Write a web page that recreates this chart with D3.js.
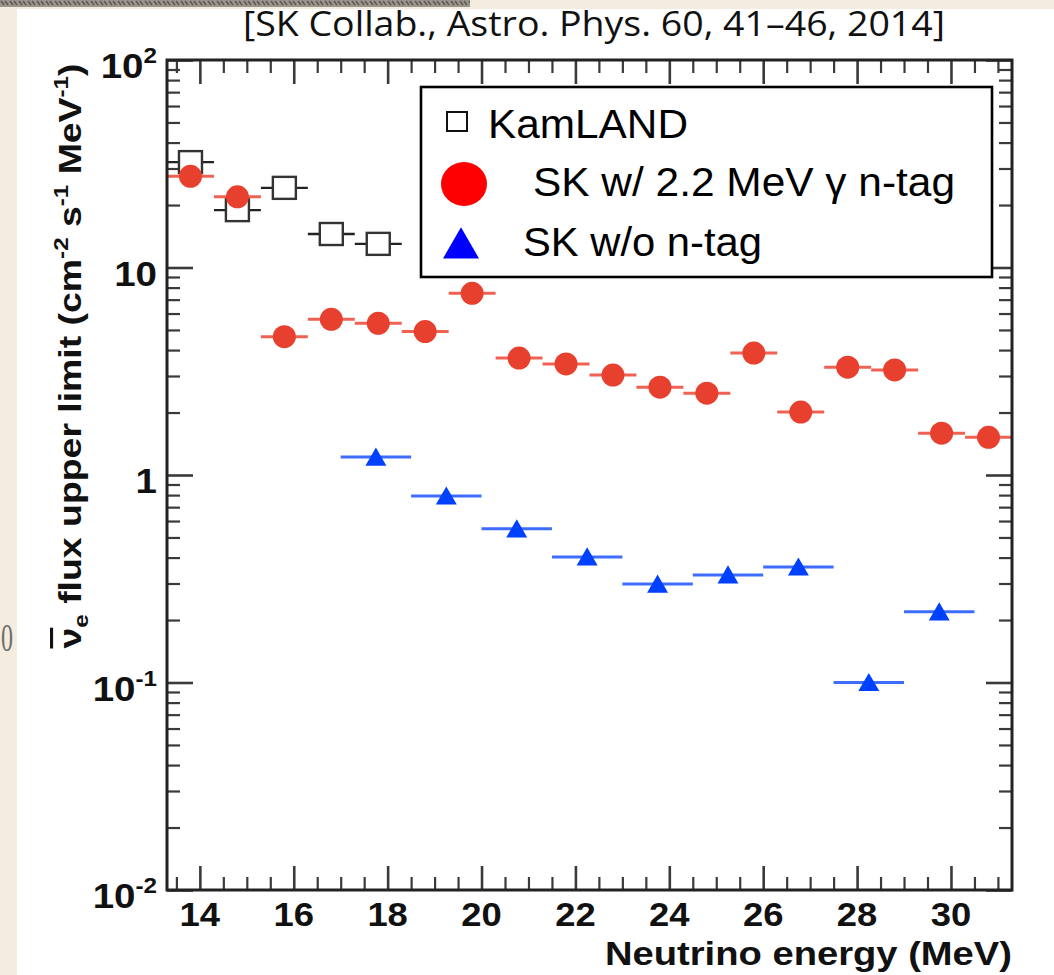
<!DOCTYPE html>
<html><head><meta charset="utf-8">
<script src="https://cdn.jsdelivr.net/npm/d3@7"></script>
<style>html,body{margin:0;padding:0;background:#f4eddf;overflow:hidden}</style>
</head><body>
<script>
// ---- data ----
const kamlandEnergy = [13.8, 14.8, 15.8, 16.8, 17.8];
const kamlandLimit  = [32.2, 18.9, 24.2, 14.5, 13.0];
const kamlandHalfBin = 0.5;

const skNtagEnergy = [13.8, 14.8, 15.8, 16.8, 17.8, 18.8, 19.8, 20.8, 21.8, 22.8, 23.8, 24.8, 25.8, 26.8, 27.8, 28.8, 29.8, 30.8];
const skNtagLimit  = [27.5, 21.9, 4.64, 5.63, 5.38, 4.91, 7.51, 3.66, 3.43, 3.03, 2.65, 2.48, 3.87, 2.01, 3.31, 3.21, 1.59, 1.52];
const skNtagHalfBin = 0.5;

const skNoTagEnergy = [17.75, 19.25, 20.75, 22.25, 23.75, 25.25, 26.75, 28.25, 29.75];
const skNoTagLimit  = [1.22, 0.792, 0.55, 0.403, 0.298, 0.330, 0.360, 0.100, 0.219];
const skNoTagHalfBin = 0.75;

const xMajorTicks = [14, 16, 18, 20, 22, 24, 26, 28, 30];
const xMinorTicks = [13.5,14.5,15,15.5,16.5,17,17.5,18.5,19,19.5,20.5,21,21.5,22.5,23,23.5,24.5,25,25.5,26.5,27,27.5,28.5,29,29.5,30.5,31];
const yMajorTicks = [0.01, 0.1, 1, 10, 100];
const yTickBase = ["10", "10", "1", "10", "10"];
const yTickExp  = ["-2", "-1", "", "", "2"];
const yMinorTicks = [];
[0.01, 0.1, 1, 10].forEach(d => { for (let m = 2; m <= 9; m++) yMinorTicks.push(+(d * m).toPrecision(3)); });

const legendLabels = ["KamLAND", "SK w/ 2.2 MeV \u03B3 n-tag", "SK w/o n-tag"];
const titleText = "[SK Collab., Astro. Phys. 60, 41\u201346, 2014]";
const xTitle = "Neutrino energy (MeV)";

// ---- layout ----
const W = 1054, H = 975;
const L = 167, R = 1012, T = 60, B = 890;
const FONT = "'Liberation Sans', Arial, Helvetica, sans-serif";

const svg = d3.select("body").append("svg").attr("width", W).attr("height", H);
const defs = svg.append("defs");
const pat = defs.append("pattern").attr("id", "tex").attr("width", 9).attr("height", 8).attr("patternUnits", "userSpaceOnUse");
pat.append("rect").attr("width", 9).attr("height", 8).attr("fill", "#9a958e");
pat.append("path").attr("d", "M1,1 L4,5 M5,1 L8,5").attr("stroke", "#5d5852").attr("stroke-width", 1.6);

svg.append("rect").attr("width", W).attr("height", H).attr("fill", "#f4eddf");
svg.append("rect").attr("x", 0).attr("y", 0).attr("width", 470).attr("height", 7).attr("fill", "url(#tex)");
svg.append("rect").attr("x", 17).attr("y", 9).attr("width", W - 17).attr("height", H - 9).attr("fill", "#ffffff");

// small glyph at the left edge, as in the reference
svg.append("text").attr("x", 1).attr("y", 651)
  .attr("font-family", "'Liberation Serif', serif").attr("font-size", 40).attr("fill", "#6e6e6e")
  .attr("textLength", 12).attr("lengthAdjust", "spacingAndGlyphs").text("0");

const x = d3.scaleLinear().domain([13.3, 31.3]).range([L, R]);
const y = d3.scaleLog().domain([0.01, 100]).range([B, T]);

function setLen(sel, len) {
  sel.attr("textLength", len).attr("lengthAdjust", "spacingAndGlyphs");
}
function stretch(sel, f) {
  sel.each(function () {
    const l = this.getComputedTextLength();
    d3.select(this).attr("textLength", l * f).attr("lengthAdjust", "spacingAndGlyphs");
  });
}

// ---- title ----
const tt = svg.append("text").attr("x", 243).attr("y", 36)
  .attr("font-family", "'Open Sans', sans-serif").attr("font-size", 35).attr("fill", "#111").text(titleText);
setLen(tt, 702);

// ---- ticks ----
function ticks(gen, tr, w) {
  const g = svg.append("g").attr("transform", tr).call(gen);
  g.select(".domain").remove();
  g.selectAll("text").remove();
  g.selectAll("line").attr("stroke", "#3a3a3a").attr("stroke-width", w);
}
ticks(d3.axisBottom(x).tickValues(xMajorTicks).tickSize(-24), `translate(0,${B})`, 2.6);
ticks(d3.axisBottom(x).tickValues(xMinorTicks).tickSize(-13), `translate(0,${B})`, 2.2);
ticks(d3.axisTop(x).tickValues(xMajorTicks).tickSize(-24), `translate(0,${T})`, 2.6);
ticks(d3.axisTop(x).tickValues(xMinorTicks).tickSize(-13), `translate(0,${T})`, 2.2);
ticks(d3.axisLeft(y).tickValues(yMajorTicks).tickSize(-26), `translate(${L},0)`, 2.6);
ticks(d3.axisLeft(y).tickValues(yMinorTicks).tickSize(-13), `translate(${L},0)`, 2.2);
ticks(d3.axisRight(y).tickValues(yMajorTicks).tickSize(-26), `translate(${R},0)`, 2.6);
ticks(d3.axisRight(y).tickValues(yMinorTicks).tickSize(-13), `translate(${R},0)`, 2.2);

// ---- tick labels ----
const xl = svg.append("g").selectAll("text").data(xMajorTicks).join("text")
  .attr("x", d => x(d)).attr("y", 926).attr("text-anchor", "middle")
  .attr("font-family", FONT).attr("font-weight", "bold").attr("font-size", 34).attr("fill", "#111")
  .text(d => d);
stretch(xl, 1.07);

const yl = svg.append("g").selectAll("text").data(yMajorTicks).join("text")
  .attr("x", 157).attr("y", d => y(d) + 18).attr("text-anchor", "end")
  .attr("font-family", FONT).attr("font-weight", "bold").attr("font-size", 35).attr("fill", "#111");
yl.each(function (d, i) {
  const t = d3.select(this);
  t.append("tspan").text(yTickBase[i]);
  if (yTickExp[i]) t.append("tspan").attr("font-size", 22).attr("dy", -15).text(yTickExp[i]);
});
stretch(yl, 1.1);

// ---- axis titles ----
const xt = svg.append("text").attr("x", R).attr("y", 965).attr("text-anchor", "end")
  .attr("font-family", FONT).attr("font-weight", "bold").attr("font-size", 34).attr("fill", "#111").text(xTitle);
setLen(xt, 407);

const yt = svg.append("text").attr("transform", "translate(81,356) rotate(-90)").attr("text-anchor", "middle")
  .attr("font-family", FONT).attr("font-weight", "bold").attr("font-size", 31).attr("fill", "#111");
yt.append("tspan").style("text-decoration", "overline").text("\u03BD");
yt.append("tspan").attr("font-size", 20).attr("dy", 7).text("e");
yt.append("tspan").attr("dy", -7).text(" flux upper limit (cm");
yt.append("tspan").attr("font-size", 20).attr("dy", -13).text("-2");
yt.append("tspan").attr("dy", 13).text(" s");
yt.append("tspan").attr("font-size", 20).attr("dy", -13).text("-1");
yt.append("tspan").attr("dy", 13).text(" MeV");
yt.append("tspan").attr("font-size", 20).attr("dy", -13).text("-1");
yt.append("tspan").attr("dy", 13).text(")");
setLen(yt, 585);

// ---- data marks ----
const plot = svg.append("g");
// KamLAND
const kam = kamlandEnergy.map((e, i) => ({ e, v: kamlandLimit[i] }));
plot.append("g").selectAll("line").data(kam).join("line")
  .attr("x1", d => x(d.e - kamlandHalfBin)).attr("x2", d => x(d.e + kamlandHalfBin))
  .attr("y1", d => y(d.v)).attr("y2", d => y(d.v))
  .attr("stroke", "#222").attr("stroke-width", 2.4);
plot.append("g").selectAll("rect").data(kam).join("rect")
  .attr("x", d => x(d.e) - 11.5).attr("y", d => y(d.v) - 11).attr("width", 23).attr("height", 22)
  .attr("fill", "#fff").attr("stroke", "#333").attr("stroke-width", 2.4);

// SK with n-tag
const skn = skNtagEnergy.map((e, i) => ({ e, v: skNtagLimit[i] }));
plot.append("g").selectAll("line").data(skn).join("line")
  .attr("x1", d => x(d.e - skNtagHalfBin)).attr("x2", d => x(d.e + skNtagHalfBin))
  .attr("y1", d => y(d.v)).attr("y2", d => y(d.v))
  .attr("stroke", "#ef6152").attr("stroke-width", 3);
plot.append("g").selectAll("circle").data(skn).join("circle")
  .attr("cx", d => x(d.e)).attr("cy", d => y(d.v)).attr("r", 11.5)
  .attr("fill", "#e8402e");

// SK without n-tag
const sko = skNoTagEnergy.map((e, i) => ({ e, v: skNoTagLimit[i] }));
plot.append("g").selectAll("line").data(sko).join("line")
  .attr("x1", d => x(d.e - skNoTagHalfBin)).attr("x2", d => x(d.e + skNoTagHalfBin))
  .attr("y1", d => y(d.v)).attr("y2", d => y(d.v))
  .attr("stroke", "#3d6cff").attr("stroke-width", 3);
const tri = d3.symbol().type(d3.symbolTriangle).size(190);
plot.append("g").selectAll("path").data(sko).join("path")
  .attr("transform", d => `translate(${x(d.e)},${y(d.v) + 2.5})`)
  .attr("d", tri).attr("fill", "#0040ff");

// ---- frame ----
svg.append("rect").attr("x", L).attr("y", T).attr("width", R - L).attr("height", B - T)
  .attr("fill", "none").attr("stroke", "#222").attr("stroke-width", 3);

// ---- legend ----
const lg = svg.append("g");
lg.append("rect").attr("x", 421).attr("y", 87).attr("width", 571).attr("height", 190)
  .attr("fill", "#fff").attr("stroke", "#000").attr("stroke-width", 2.6);
lg.append("rect").attr("x", 447).attr("y", 112).attr("width", 20).attr("height", 19)
  .attr("fill", "#fff").attr("stroke", "#111").attr("stroke-width", 2);
lg.append("ellipse").attr("cx", 464).attr("cy", 184).attr("rx", 23).attr("ry", 22).attr("fill", "#ff0000");
lg.append("path").attr("transform", "translate(461,248)")
  .attr("d", d3.symbol().type(d3.symbolTriangle).size(560)).attr("fill", "#0000ff");
const legX = [488, 533, 523], legY = [138, 196, 256], legW = [200, 422, 239];
legendLabels.forEach((t, i) => {
  const s = lg.append("text").attr("x", legX[i]).attr("y", legY[i])
    .attr("font-family", FONT).attr("font-size", 40).attr("fill", "#000").text(t);
  setLen(s, legW[i]);
});
</script>
</body></html>
